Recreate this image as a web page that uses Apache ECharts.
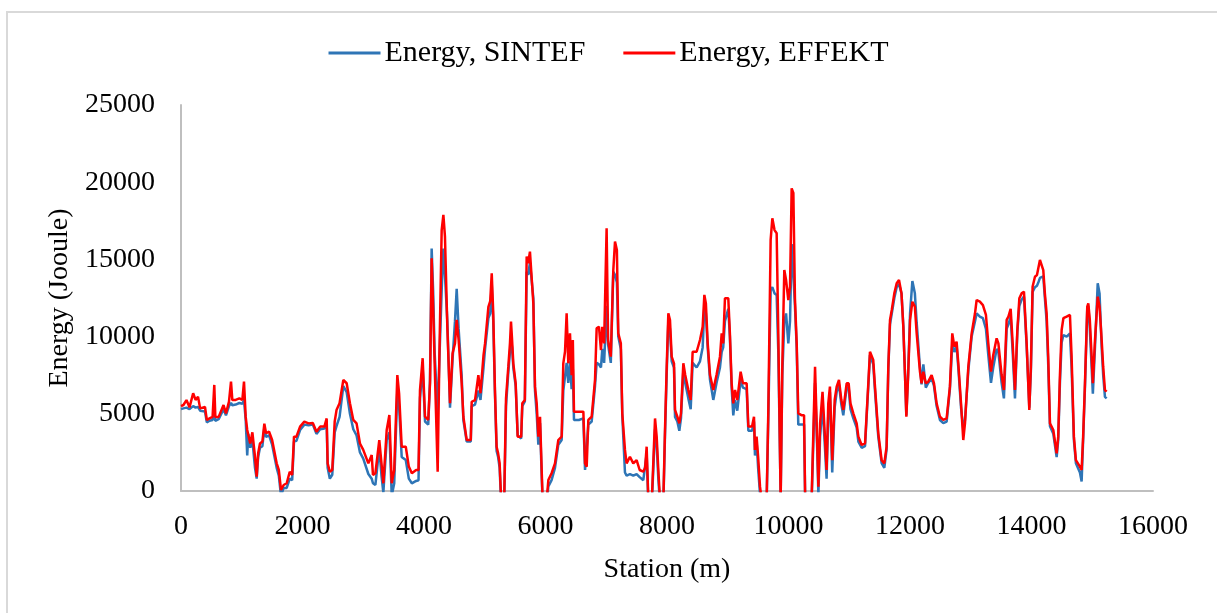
<!DOCTYPE html>
<html>
<head>
<meta charset="utf-8">
<script src="https://cdn.jsdelivr.net/npm/echarts@6/dist/echarts.min.js"></script>
<style>
html,body{margin:0;padding:0;background:#fff;}
#chart{width:1217px;height:613px;}
</style>
</head>
<body>
<div id="chart"></div>
<script>
// Station (m)
const stations = [
0,40,90,140,200,240,280,315,395,425,470,520,548,565,620,700,740,790,823,845,900,960,1010,1037,1065,1090,1108,1140,1175,1218,1246,1270,1300,1340,1372,1400,1450,1500,1575,1610,1646,1690,1740,1790,1830,1860,1900,1960,2030,2100,2170,2230,2290,2360,2398,2414,2450,2490,2530,2560,2610,2672,2727,2781,2836,2890,2946,3000,3084,3139,3160,3200,3264,3300,3331,3386,3430,3469,3510,3561,3590,3633,3700,3750,3800,3870,3910,3934,3978,4017,4070,4099,4126,4150,4175,4225,4253,4291,4319,4345,4384,4428,4470,4510,4538,4570,4620,4648,4703,4770,4785,4840,4895,4930,4980,5005,5060,5090,5115,5140,5168,5195,5220,5245,5270,5320,5350,5388,5415,5432,5450,5470,5509,5542,5600,5618,5660,5690,5715,5744,5770,5800,5827,5855,5882,5910,5937,5953,6019,6047,6100,6156,6211,6266,6293,6321,6348,6375,6403,6430,6450,6469,6550,6623,6651,6678,6705,6760,6815,6842,6880,6913,6935,6965,7006,7030,7075,7116,7144,7175,7198,7240,7264,7308,7335,7390,7445,7500,7550,7610,7640,7665,7693,7750,7803,7830,7857,7885,7940,7967,7995,8022,8049,8077,8115,8132,8170,8203,8230,8269,8300,8351,8390,8422,8488,8543,8587,8615,8640,8670,8708,8762,8815,8872,8900,8925,8954,9009,9035,9064,9091,9120,9157,9212,9250,9311,9339,9400,9432,9448,9475,9500,9531,9560,9640,9668,9706,9734,9770,9805,9832,9871,9898,9931,9960,9997,10025,10052,10080,10106,10135,10161,10220,10256,10275,10380,10437,10470,10492,10520,10560,10600,10627,10655,10682,10720,10760,10793,10831,10870,10902,10957,10990,11020,11067,11122,11150,11204,11260,11314,11341,11395,11420,11478,11533,11577,11615,11643,11671,11700,11742,11781,11819,11860,11890,11918,11940,11970,12001,12039,12080,12110,12164,12190,12220,12260,12300,12356,12395,12438,12493,12548,12603,12657,12696,12730,12767,12795,12840,12877,12905,12960,13015,13070,13097,13150,13200,13250,13289,13333,13370,13426,13455,13508,13546,13591,13620,13657,13690,13728,13767,13800,13838,13876,13920,13964,13990,14018,14057,14090,14112,14139,14165,14194,14220,14249,14275,14304,14359,14385,14414,14440,14468,14496,14525,14578,14633,14660,14698,14731,14797,14825,14850,14880,14918,14935,14960,14990,15010,15045,15090,15120,15155,15180,15209,15237
];
// Energy, EFFEKT (Joule)
const effekt = [
5500,5570,5890,5420,6330,5900,6110,5350,5440,4600,4700,4800,6870,4800,4800,5570,5030,5790,7080,5890,5900,6000,5900,7080,4800,3950,3950,3080,3800,2220,930,2440,3080,3200,4360,3740,3840,3300,1790,1360,65,390,500,1250,1036,3520,3520,4170,4490,4380,4400,3840,4170,4170,4700,1790,1250,1360,4500,5240,5680,7190,6980,5680,4600,4380,3080,2660,1790,2330,1040,1150,3300,1790,500,3950,4920,500,1360,7510,6330,2870,2870,1580,1150,1360,1360,6540,8600,4810,4600,6980,15070,12000,8270,1250,8700,16900,17880,16470,10640,5680,8900,9560,11080,9780,7000,4810,3300,3300,5780,5890,7510,6330,8800,9560,11920,12300,14100,11500,6540,2870,2440,1800,-600,-600,6000,8050,9560,10970,9780,8270,6975,3520,3520,5680,5890,15180,14750,15500,15400,12150,6760,5680,3520,4810,1360,-600,-600,710,1150,1790,3300,3520,8270,9020,11510,8270,10210,7500,9780,5140,5140,5140,1790,1580,4600,4810,7190,10540,10640,9130,10640,9560,17010,9780,8700,14310,16150,15600,10210,9560,5030,2660,1790,2220,1790,2000,1360,1250,1500,2870,-600,-600,4700,3520,1360,-600,-600,3950,8050,11510,11080,8700,8270,5250,4810,4380,5030,8270,7510,6540,5890,9020,9020,9780,10640,12700,12150,9560,7510,6540,7510,8700,10210,9560,12480,12480,10210,6975,5680,6540,5890,7730,6975,6975,4170,4170,4810,2660,3520,2220,280,-600,-600,5250,16260,17660,16900,16690,10210,-600,8050,14310,13660,12370,13230,19600,19300,12480,9560,5030,4900,4900,-600,-600,8050,3520,280,4380,6430,3520,1360,5680,6760,2000,5890,6760,7190,5890,5250,6975,6975,5680,5030,4380,3520,2980,3090,6975,9020,8480,6975,3735,1990,1790,2870,8050,11080,11720,12800,13450,13660,12800,10640,7510,4810,7510,11080,12260,11940,10210,7730,6975,7730,6975,7080,7510,6975,5680,4810,4600,4700,6760,10210,9350,9670,8270,5680,3300,4380,8050,10210,11510,12370,12260,12040,11400,9560,7730,8800,9890,9560,7510,6540,11080,11290,11800,9560,6540,10430,12480,12800,12910,9560,5250,8050,13230,13880,13990,13990,14960,14960,14310,12800,11510,8700,4380,3950,4060,2440,3520,7510,10430,11190,11290,11400,8700,3520,2000,1580,1360,3520,6975,11940,12150,11080,8700,6975,9780,12590,11940,9780,8050,6540,6430
];
// Energy, SINTEF (Joule)
const sintef = [
5300,5350,5400,5300,5500,5400,5450,5200,5150,4450,4550,4600,5000,4550,4650,5300,4900,5500,5700,5550,5600,5700,5650,5900,4600,2300,3700,2800,3300,1500,800,2200,2800,2900,4100,3500,3600,3000,1500,1000,-300,200,200,800,700,3200,3250,3950,4300,4250,4300,3700,4000,4050,4400,1500,800,1050,3800,4200,4800,6800,6400,5000,4000,3600,2500,2100,1100,800,500,400,2800,1000,-100,3300,3800,-300,500,6500,5500,2200,2000,800,500,650,700,6000,8000,4500,4300,7200,15700,13000,9000,5000,8500,13000,15700,14000,11000,5400,8500,11000,13100,10500,7500,4600,3200,3200,5500,5600,6500,5900,8000,9200,11200,11500,13400,11000,6300,2600,2200,1500,-800,-800,5500,7700,9000,9800,9300,8000,6800,3600,3400,5500,5800,14200,14000,14800,14700,12500,6500,5000,3000,4400,1000,-800,-800,300,700,1500,3000,3300,6500,7400,8300,7000,8400,6600,7900,4600,4600,4700,1360,1250,4300,4500,6800,8300,8200,8000,9200,8300,12000,9500,8300,14200,14000,13500,10000,9200,4900,1200,1000,1100,1000,1100,900,700,800,2400,-800,-800,4000,3000,800,-800,-800,3600,7600,11000,10500,8400,8000,4800,4500,3900,4700,7800,7000,6000,5300,8300,8000,8400,9300,12000,11500,9300,7200,5900,7000,8000,9000,9300,11000,11800,10000,6700,4900,5900,5200,7200,6700,6600,3900,3900,4500,2300,3200,1500,-200,-800,-800,4800,13000,13200,12800,12700,9000,-300,7500,11000,11500,9560,11000,16000,14000,12000,9300,4300,4300,4300,-800,-800,7000,3000,-200,3500,5600,2800,800,5000,6400,1200,5400,6400,6900,5600,4900,6700,6700,5300,4700,4100,3200,2800,2900,6800,8800,8200,6700,3500,1800,1500,2700,7900,10800,11500,12500,13200,13400,12800,10700,7500,4900,7700,11500,13600,12800,10900,8000,6900,8200,6700,7000,7300,6800,5500,4600,4400,4500,6600,9500,9000,9400,8000,5400,4000,4600,7800,10000,11000,11500,11300,11200,10500,8800,7000,8000,9200,9000,7000,6000,10500,10800,11300,9000,6000,10300,12000,12400,12600,9400,5400,7800,12900,13200,13300,13500,13800,13800,13900,12500,11000,8200,4200,3700,3800,2200,3300,7000,9600,10100,10000,10200,8000,3300,1800,1200,620,3300,6700,11800,12000,10500,8000,6300,9300,13450,12800,9300,7500,6100,6000
];
const xTicks = [0,2000,4000,6000,8000,10000,12000,14000,16000];
const yTicks = [0,5000,10000,15000,20000,25000];

const blueData = stations.map((s,i)=>[s, sintef[i]]);
const redData = stations.map((s,i)=>[s, effekt[i]]);

const FONT = '"Liberation Serif","Times New Roman",serif';
const chart = echarts.init(document.getElementById('chart'), null, {renderer:'canvas'});
chart.setOption({
  animation:false,
  backgroundColor:'#ffffff',
  graphic:[{
    type:'polyline', silent:true,
    shape:{points:[[7,613],[7,12],[1217,12]]},
    style:{stroke:'#d9d9d9', lineWidth:2, fill:null}
  }],
  legend:{
    top:33, left:'center',
    itemWidth:52, itemHeight:3, itemGap:38,
    icon:'rect',
    textStyle:{fontFamily:FONT, fontSize:30, color:'#000', padding:[0,0,0,-1]},
    data:['Energy, SINTEF','Energy, EFFEKT']
  },
  grid:{left:181, right:64, top:105, bottom:122, containLabel:false},
  xAxis:{
    type:'value', min:xTicks[0], max:xTicks[xTicks.length-1], interval:2000,
    name:'Station (m)', nameLocation:'middle', nameGap:79,
    nameTextStyle:{fontFamily:FONT, fontSize:28, color:'#000', verticalAlign:'middle', padding:[0,0,0,0]},
    axisLine:{show:true, lineStyle:{color:'#bfbfbf', width:2}},
    axisTick:{show:false},
    splitLine:{show:false},
    axisLabel:{fontFamily:FONT, fontSize:28, color:'#000', margin:22, formatter:(v)=>String(v)}
  },
  yAxis:{
    type:'value', min:yTicks[0], max:yTicks[yTicks.length-1], interval:5000,
    name:'Energy (Jooule)', nameLocation:'middle', nameGap:120, nameRotate:90,
    nameTextStyle:{fontFamily:FONT, fontSize:28, color:'#000', verticalAlign:'middle'},
    axisLine:{show:true, lineStyle:{color:'#bfbfbf', width:2}},
    axisTick:{show:false},
    splitLine:{show:false},
    axisLabel:{fontFamily:FONT, fontSize:28, color:'#000', margin:26, formatter:(v)=>String(v)}
  },
  series:[
    {name:'Energy, SINTEF', type:'line', data:blueData, showSymbol:false, clip:true,
     lineStyle:{color:'#2e75b6', width:2.5}, itemStyle:{color:'#2e75b6'}},
    {name:'Energy, EFFEKT', type:'line', data:redData, showSymbol:false, clip:true,
     lineStyle:{color:'#ff0000', width:2.5}, itemStyle:{color:'#ff0000'}}
  ]
});
</script>
</body>
</html>
